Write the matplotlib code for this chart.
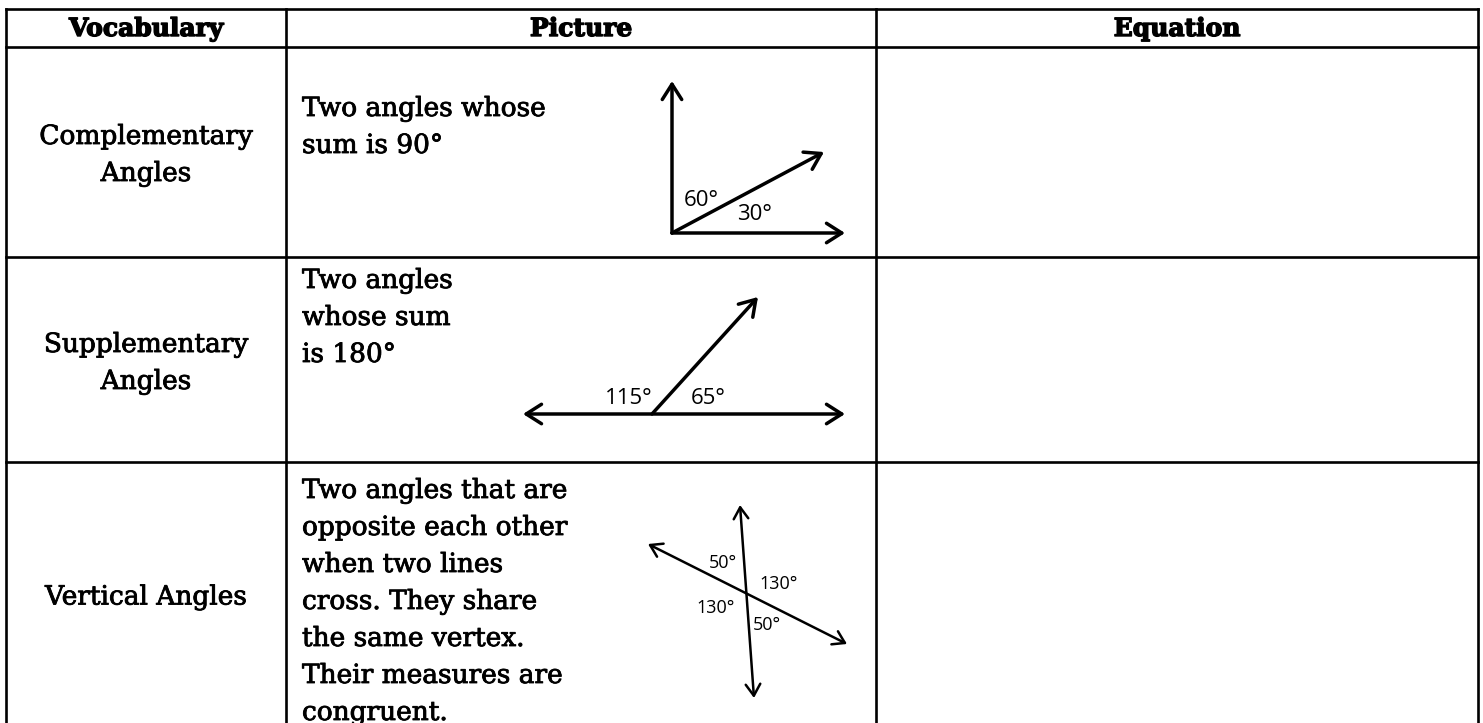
import matplotlib
matplotlib.use("Agg")
import matplotlib.pyplot as plt
import matplotlib.patheffects as pe

# ---- data ----
headers = ["Vocabulary", "Picture", "Equation"]
vocab_terms = [["Complementary", "Angles"], ["Supplementary", "Angles"], ["Vertical Angles"]]
definitions = [
    ["Two angles whose", "sum is 90°"],
    ["Two angles", "whose sum", "is 180°"],
    ["Two angles that are", "opposite each other", "when two lines",
     "cross. They share", "the same vertex.", "Their measures are", "congruent."],
]
equations = ["", "", ""]
comp_angles = [60, 30]
supp_angles = [115, 65]
vert_angles = [50, 130, 130, 50]

# ---- layout (pixel space) ----
W, H = 1483, 723
col_x = [6, 286, 876, 1478]
row_y = [9, 47, 257, 462]
body_font = "DejaVu Serif"
label_font = "Open Sans"
fs_body = 19
fs_head = 18
pitch = 37
heavy = [pe.withStroke(linewidth=0.6, foreground="black")]

fig = plt.figure(figsize=(W / 100, H / 100), dpi=100)
ax = fig.add_axes([0, 0, 1, 1])
ax.set_xlim(0, W)
ax.set_ylim(H, 0)
ax.axis("off")

lw_table = 1.9
for y in row_y:
    ax.plot([col_x[0], col_x[-1]], [y, y], color="black", lw=lw_table, solid_capstyle="projecting")
for x in col_x:
    ax.plot([x, x], [row_y[0], H + 5], color="black", lw=lw_table, solid_capstyle="projecting")

# header
for i, h in enumerate(headers):
    cx = (col_x[i] + col_x[i + 1]) / 2
    ax.text(cx, (row_y[0] + row_y[1]) / 2 + 1, h, ha="center", va="center",
            fontsize=fs_head, fontweight="bold", family=body_font,
            path_effects=[pe.withStroke(linewidth=1.0, foreground="black")])

# vocabulary column
row_centers = [155, 363, 597]
for terms, yc in zip(vocab_terms, row_centers):
    n = len(terms)
    y0 = yc - (n - 1) * pitch / 2
    for k, t in enumerate(terms):
        ax.text((col_x[0] + col_x[1]) / 2, y0 + k * pitch, t, ha="center", va="center",
                fontsize=fs_body, family=body_font, path_effects=heavy)

# definitions
first_baselines = [116, 288, 498]
for lines, yb in zip(definitions, first_baselines):
    for k, t in enumerate(lines):
        ax.text(302, yb + k * pitch, t, ha="left", va="baseline",
                fontsize=fs_body, family=body_font, path_effects=heavy)

def arrow(p0, p1, style="->", lw=2.5, ms=20):
    ax.annotate("", xy=p1, xytext=p0,
                arrowprops=dict(arrowstyle=f"{style},head_length=0.55,head_width=0.35",
                                lw=lw, color="black", shrinkA=0, shrinkB=0,
                                mutation_scale=ms))

# complementary diagram
v = (672, 233)
arrow(v, (672, 81))
arrow(v, (845, 233))
arrow(v, (824, 152))
ax.text(701, 200, f"{comp_angles[0]}°", ha="center", va="center", fontsize=16, family=label_font)
ax.text(754, 215, f"{comp_angles[1]}°", ha="center", va="center", fontsize=16, family=label_font)

# supplementary diagram
arrow((523, 414), (845, 414), style="<->")
arrow((652, 414), (758, 297))
ax.text(629, 399, f"{supp_angles[0]}°", ha="center", va="center", fontsize=16, family=label_font)
ax.text(708, 399, f"{supp_angles[1]}°", ha="center", va="center", fontsize=16, family=label_font)

# vertical angles diagram
arrow((754, 698), (740, 505), style="<->", lw=1.8, ms=15)
arrow((648, 544), (847, 644), style="<->", lw=1.8, ms=15)
ax.text(723, 563, f"{vert_angles[0]}°", ha="center", va="center", fontsize=13, family=label_font)
ax.text(779, 584, f"{vert_angles[1]}°", ha="center", va="center", fontsize=13, family=label_font)
ax.text(716, 608, f"{vert_angles[2]}°", ha="center", va="center", fontsize=13, family=label_font)
ax.text(767, 625, f"{vert_angles[3]}°", ha="center", va="center", fontsize=13, family=label_font)

fig.savefig("out.png", dpi=100, facecolor="white")
